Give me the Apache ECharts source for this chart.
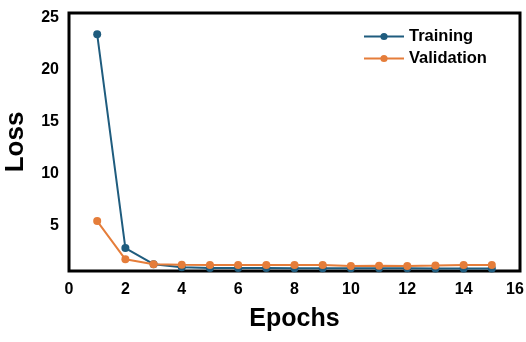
<!DOCTYPE html>
<html>
<head>
<meta charset="utf-8">
<script src="https://cdn.jsdelivr.net/npm/echarts@6/dist/echarts.min.js"></script>
<style>
    html, body { margin: 0; padding: 0; background: #fff; }
    #chart { width: 526px; height: 342px; }
</style>
</head>
<body>
<div id="chart"></div>
<script>
var epochs = [1, 2, 3, 4, 5, 6, 7, 8, 9, 10, 11, 12, 13, 14, 15];
var training = [23.35, 2.8, 1.25, 0.95, 0.9, 0.88, 0.88, 0.87, 0.87, 0.86, 0.86, 0.86, 0.85, 0.85, 0.85];
var validation = [5.4, 1.72, 1.25, 1.2, 1.18, 1.18, 1.18, 1.18, 1.18, 1.08, 1.1, 1.07, 1.12, 1.18, 1.18];
var yTicks = [5, 10, 15, 20, 25];

var chart = echarts.init(document.getElementById('chart'));

function pairs(ys) {
    return epochs.map(function (x, i) { return [x, ys[i]]; });
}

var fontFamily = '"Liberation Sans", Arial, sans-serif';

chart.setOption({
    animation: false,
    color: ['#1f5c7e', '#e57d3a'],
    grid: { // plot box with black frame
        left: 69,
        right: 6,
        top: 13,
        bottom: 71,
        outerBoundsMode: 'none',
        show: true,
        borderColor: '#000',
        borderWidth: 3,
        backgroundColor: 'transparent'
    },
    legend: {
        top: 23,
        left: 358,
        orient: 'vertical',
        itemGap: 5,
        itemWidth: 40,
        itemHeight: 9,
        textStyle: { fontFamily: fontFamily, fontWeight: 'bold', fontSize: 16.5, color: '#000', padding: [0, 0, 0, 0] },
        data: ['Training', 'Validation']
    },
    xAxis: {
        type: 'value',
        min: 0,
        max: 16,
        interval: 2,
        name: 'Epochs',
        nameLocation: 'middle',
        nameGap: 36,
        nameTextStyle: { fontFamily: fontFamily, fontWeight: 'bold', fontSize: 25, color: '#000' },
        axisLine: { show: false },
        axisTick: { show: false },
        splitLine: { show: false },
        axisLabel: {
            margin: 11,
            fontFamily: fontFamily,
            fontWeight: 'bold',
            fontSize: 16,
            color: '#000',
            formatter: function (v) {
                return v === 16 ? '{r|16}' : String(v);
            },
            rich: {
                r: { fontFamily: fontFamily, fontWeight: 'bold', fontSize: 16, color: '#000', padding: [0, 10, 0, 0] }
            }
        }
    },
    yAxis: {
        type: 'value',
        min: 0.6,
        max: 25.4,
        name: 'Loss',
        nameLocation: 'middle',
        nameGap: 40,
        nameTextStyle: { fontFamily: fontFamily, fontWeight: 'bold', fontSize: 26, color: '#000' },
        axisLine: { show: false },
        axisTick: { show: false },
        splitLine: { show: false },
        axisLabel: {
            customValues: yTicks,
            margin: 10,
            fontFamily: fontFamily,
            fontWeight: 'bold',
            fontSize: 16,
            color: '#000'
        }
    },
    series: [
        {
            name: 'Training',
            type: 'line',
            data: pairs(training),
            symbol: 'circle',
            symbolSize: 8,
            lineStyle: { width: 2 },
            z: 2
        },
        {
            name: 'Validation',
            type: 'line',
            data: pairs(validation),
            symbol: 'circle',
            symbolSize: 8,
            lineStyle: { width: 2 },
            z: 3
        }
    ]
});
</script>
</body>
</html>
